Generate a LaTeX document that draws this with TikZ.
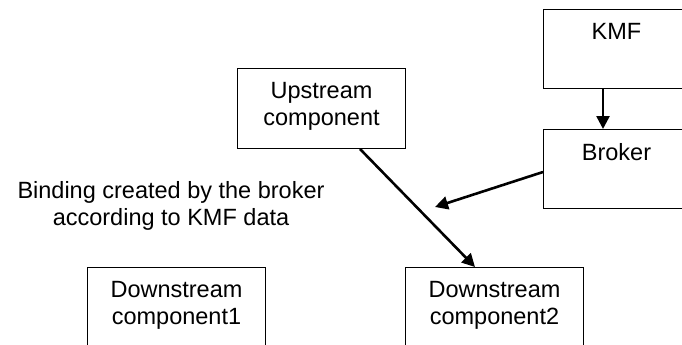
\documentclass[tikz,border=0pt]{standalone}
\usepackage{fontspec}
\setmainfont{Liberation Sans}
\usetikzlibrary{arrows.meta,positioning}
\begin{document}
\begin{tikzpicture}[x=1pt,y=-1pt,
  box/.style={draw,line width=1pt,inner sep=0pt,anchor=north west,minimum height=80pt},
  txt/.style={font=\fontsize{23.5}{27}\selectfont,align=center,inner sep=0pt},
  arr/.style={line width=2.6pt,-{Triangle[length=13pt,width=13pt]}}]
\useasboundingbox (0,0) rectangle (682,345);
\clip (0,0) rectangle (682,345);
\node[box,minimum width=146pt,minimum height=79pt] (kmf) at (543,9) {};
\node[box,minimum width=146pt,minimum height=79pt] (broker) at (543,129) {};
\node[box,minimum width=168pt] (up) at (237,68) {};
\node[box,minimum width=178pt] (d1) at (87,267) {};
\node[box,minimum width=178pt] (d2) at (405,267) {};
\node[txt,below=14pt of kmf.north] (tkmf) {KMF};
\node[txt,below=14pt of broker.north] (tbroker) {Broker};
\node[txt,below=14pt of up.north] (tup) {Upstream\\component};
\node[txt,below=14pt of d1.north] (td1) {Downstream\\component1};
\node[txt,below=14pt of d2.north] (td2) {Downstream\\component2};
\node[txt,anchor=north] (lbl) at (171,181) {Binding created by the broker\\according to KMF data};
\coordinate (bind) at (435,207);
\draw[arr] ([xshift=60pt]kmf.south west) -- ([xshift=60pt]broker.north west);
\draw[arr] ([xshift=123pt]up.south west) -- ([xshift=70pt]d2.north west);
\draw[arr] ([yshift=-43pt]broker.north west) -- (bind);
\end{tikzpicture}
\end{document}
